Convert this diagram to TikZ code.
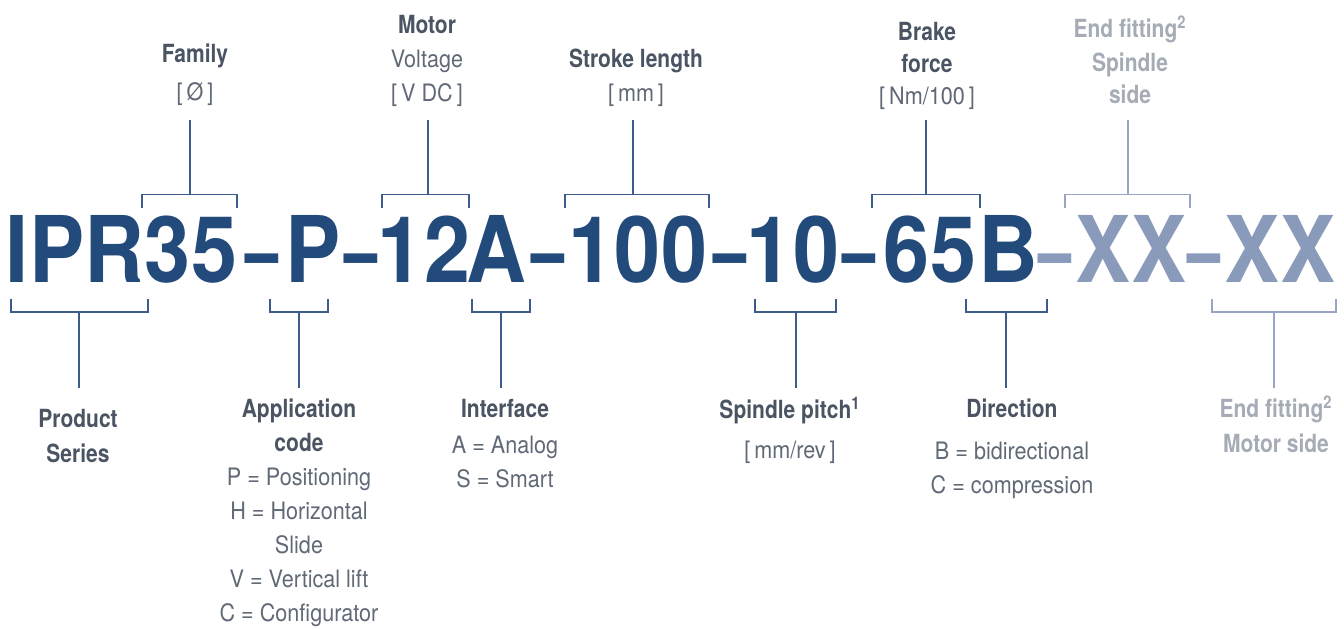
\documentclass[tikz,border=0pt]{standalone}
\usepackage{fontspec}
\usepackage{graphicx}
\setmainfont{TeX Gyre Heros}
\newfontfamily\codefont{TeX Gyre Heros}[FakeStretch=0.9]
\newfontfamily\ttlfont{TeX Gyre Heros}[FakeStretch=0.84]
\newfontfamily\valfont{TeX Gyre Heros}[FakeStretch=0.9]
\usetikzlibrary{positioning}
\definecolor{codeblue}{RGB}{34,74,122}
\definecolor{codepale}{RGB}{138,154,187}
\definecolor{lineblue}{RGB}{62,92,138}
\definecolor{linepale}{RGB}{152,166,196}
\definecolor{ttlgrey}{RGB}{74,84,98}
\definecolor{valgrey}{RGB}{96,105,118}
\definecolor{palegrey}{RGB}{166,172,182}
\newcommand{\ttl}[1]{{\ttlfont\bfseries\fontsize{12.5}{17}\selectfont #1}}
\newcommand{\val}[1]{{\color{valgrey}#1}}
\newcommand{\dsh}{\scalebox{0.72}[1]{–}}

\begin{document}
\begin{tikzpicture}[
    x=0.5pt, y=-0.5pt,
    code/.style={anchor=base, inner sep=0, font=\codefont\bfseries\fontsize{46}{46}\selectfont, text=codeblue},
    codelight/.style={code, text=codepale},
    lbl/.style={anchor=base, inner sep=0, font=\valfont\fontsize{12}{17}\selectfont, text=ttlgrey},
    lbllight/.style={lbl, text=palegrey},
    brace/.style={draw=lineblue, line width=0.7pt},
    bracelight/.style={brace, draw=linepale}]
\fill[white] (0,0) rectangle (1344,628);
\useasboundingbox (0,0) rectangle (1344,628);

% the code itself
\node[code] (ipr)  at (75,282)   {IPR};
\node[code] (fam)  at (191,282)  {35};
\node[code] (d1)   at (262,282)  {\dsh};
\node[code] (app)  at (313,282)  {P};
\node[code] (d2)   at (361,282)  {\dsh};
\node[code] (volt) at (424,282)  {12};
\node[code] (intf) at (496,282)  {A};
\node[code] (d3)   at (548,282)  {\dsh};
\node[code] (strk) at (638,282)  {100};
\node[code] (d4)   at (730,282)  {\dsh};
\node[code] (ptch) at (793,282)  {10};
\node[code] (d5)   at (859,282)  {\dsh};
\node[code] (brk)  at (930,282)  {65};
\node[code] (dirc) at (1008,282) {B};
\node[codelight] (d6)    at (1055,282) {\dsh};
\node[codelight] (endsp) at (1131,282) {XX};
\node[codelight] (d7)    at (1204,282) {\dsh};
\node[codelight] (endmo) at (1280,282) {XX};

% labels above
\node[lbl] (famlbl) at (195,62) {\begin{tabular}[t]{@{}c@{}}\ttl{Family}\\[2pt] \val{[\,Ø\,]}\end{tabular}};
\node[lbl] (voltlbl) at (427,33) {\begin{tabular}[t]{@{}c@{}}\ttl{Motor}\\ \val{Voltage}\\ \val{[\,V DC\,]}\end{tabular}};
\node[lbl] (strklbl) at (636,67) {\begin{tabular}[t]{@{}c@{}}\ttl{Stroke length}\\ \val{[\,mm\,]}\end{tabular}};
\node[lbl] (brklbl) at (927,40) {\begin{tabular}[t]{@{}c@{}}\ttl{Brake}\\[-1pt] \ttl{force}\\[-1pt] \val{[\,Nm/100\,]}\end{tabular}};
\node[lbllight] (endsplbl) at (1130,37) {\begin{tabular}[t]{@{}c@{}}\ttl{End fitting\textsuperscript{2}}\\ \ttl{Spindle}\\[-1pt] \ttl{side}\end{tabular}};

% labels below
\node[lbl] (ipralbl) at (78,427) {\begin{tabular}[t]{@{}c@{}}\ttl{Product}\\[0.5pt] \ttl{Series}\end{tabular}};
\node[lbl] (applbl) at (299,417) {\begin{tabular}[t]{@{}c@{}}\ttl{Application}\\ \ttl{code}\\ \val{P = Positioning}\\ \val{H = Horizontal}\\ \val{Slide}\\ \val{V = Vertical lift}\\ \val{C = Configurator}\end{tabular}};
\node[lbl] (intflbl) at (505,417) {\begin{tabular}[t]{@{}c@{}}\ttl{Interface}\\[1pt] \val{A = Analog}\\ \val{S = Smart}\end{tabular}};
\node[lbl] (ptchlbl) at (790,418) {\begin{tabular}[t]{@{}c@{}}\ttl{Spindle pitch\textsuperscript{1}}\\[3pt] \val{[\,mm/rev\,]}\end{tabular}};
\node[lbl] (dirclbl) at (1012,417) {\begin{tabular}[t]{@{}c@{}}\ttl{Direction}\\[4pt] \val{B = bidirectional}\\ \val{C = compression}\end{tabular}};
\node[lbllight] (endmolbl) at (1276,417) {\begin{tabular}[t]{@{}c@{}}\ttl{End fitting\textsuperscript{2}}\\[0.5pt] \ttl{Motor side}\end{tabular}};

% brackets above
\coordinate (fam-t) at (190,120);   \coordinate (fam-m) at (190,194.5);
\coordinate (volt-t) at (428,120);  \coordinate (volt-m) at (428,194.5);
\coordinate (strk-t) at (633,120);  \coordinate (strk-m) at (633,194.5);
\coordinate (brk-t) at (926,120);   \coordinate (brk-m) at (926,194.5);
\coordinate (endsp-t) at (1128,120); \coordinate (endsp-m) at (1128,194.5);
\draw[brace] (142,208) |- (237,194.5) -- (237,208);
\draw[brace] (382,208) |- (469,194.5) -- (469,208);
\draw[brace] (565,208) |- (709,194.5) -- (709,208);
\draw[brace] (872,208) |- (980,194.5) -- (980,208);
\draw[bracelight] (1065,208) |- (1190,194.5) -- (1190,208);
\draw[brace] (fam-t) -- (fam-m);
\draw[brace] (volt-t) -- (volt-m);
\draw[brace] (strk-t) -- (strk-m);
\draw[brace] (brk-t) -- (brk-m);
\draw[bracelight] (endsp-t) -- (endsp-m);

% brackets below
\coordinate (ipr-m) at (79,312);    \coordinate (ipr-b) at (79,388);
\coordinate (app-m) at (299,312);   \coordinate (app-b) at (299,388);
\coordinate (intf-m) at (501,312);  \coordinate (intf-b) at (501,388);
\coordinate (ptch-m) at (796,312);  \coordinate (ptch-b) at (796,388);
\coordinate (dirc-m) at (1006,312); \coordinate (dirc-b) at (1006,388);
\coordinate (endmo-m) at (1274,312); \coordinate (endmo-b) at (1274,388);
\draw[brace] (11,299) |- (148,312) -- (148,299);
\draw[brace] (270,299) |- (328,312) -- (328,299);
\draw[brace] (472,299) |- (530,312) -- (530,299);
\draw[brace] (755,299) |- (836,312) -- (836,299);
\draw[brace] (966,299) |- (1047,312) -- (1047,299);
\draw[bracelight] (1212,299) |- (1336,312) -- (1336,299);
\draw[brace] (ipr-m) -- (ipr-b);
\draw[brace] (app-m) -- (app-b);
\draw[brace] (intf-m) -- (intf-b);
\draw[brace] (ptch-m) -- (ptch-b);
\draw[brace] (dirc-m) -- (dirc-b);
\draw[bracelight] (endmo-m) -- (endmo-b);

\end{tikzpicture}
\end{document}
